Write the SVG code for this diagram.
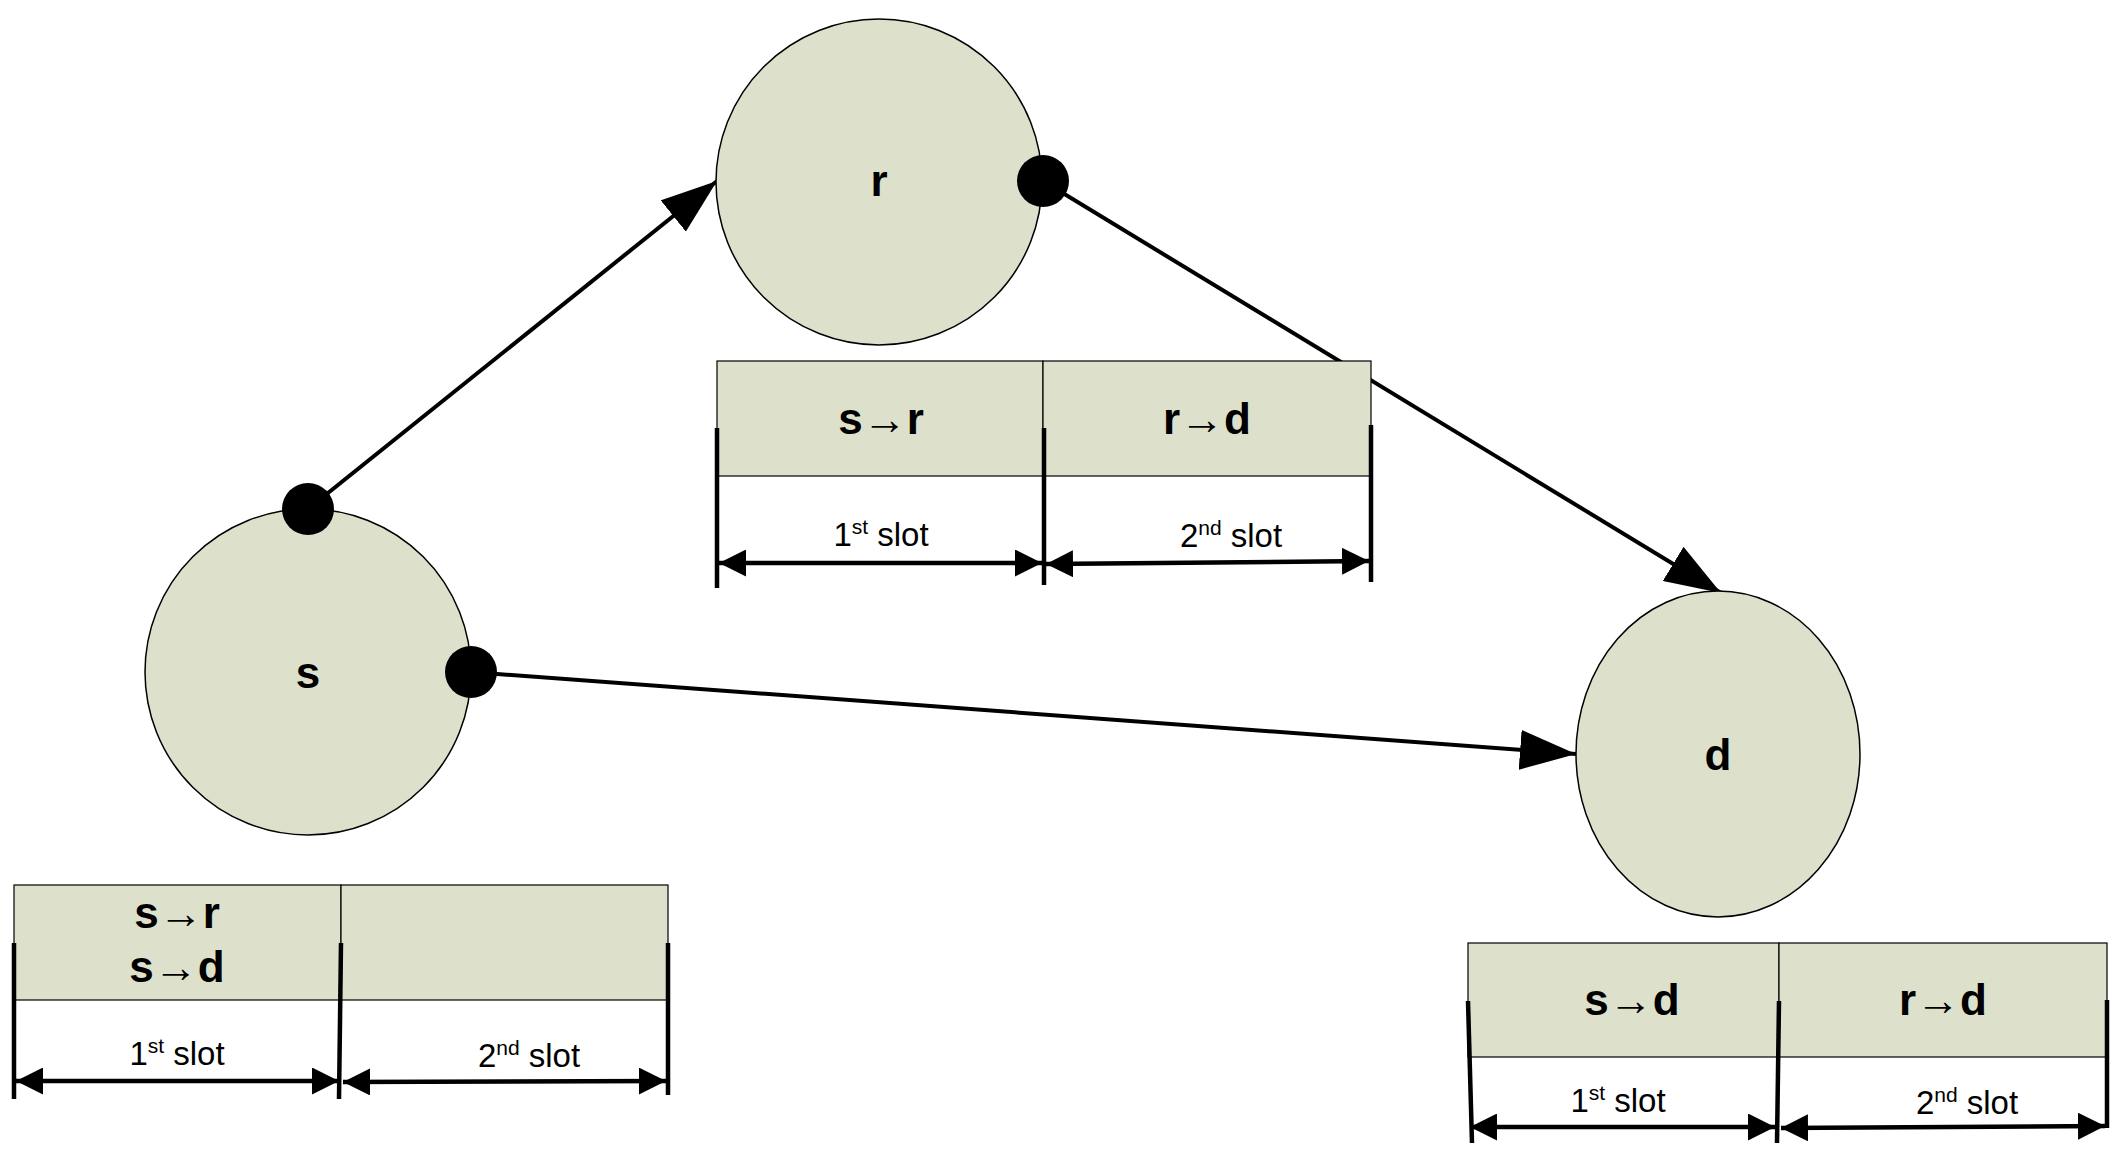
<svg xmlns="http://www.w3.org/2000/svg" width="2122" height="1164" viewBox="0 0 2122 1164">
<style>
.node{fill:#dde1cb;stroke:#000;stroke-width:1.5}
.cell{fill:#dde1cb;stroke:#000;stroke-width:1.2}
.lbl{font-family:"Liberation Sans",Arial,sans-serif;font-weight:bold;font-size:44px;text-anchor:middle;fill:#000}
.slot{font-family:"Liberation Sans",Arial,sans-serif;font-size:33px;text-anchor:middle;fill:#000}
.bar{stroke:#000;stroke-width:4.5;fill:none}
.dim{stroke:#000;stroke-width:4.5;fill:none;marker-start:url(#sm);marker-end:url(#sm)}
.conn{stroke:#000;stroke-width:4;fill:none;marker-end:url(#big)}
</style>
<defs>
<marker id="big" viewBox="0 0 14 10" refX="14" refY="5" markerWidth="14" markerHeight="10" markerUnits="strokeWidth" orient="auto"><path d="M0,0 L14,5 L0,10 Z" fill="#000"/></marker>
<marker id="sm" viewBox="0 0 8 8" refX="8" refY="4" markerWidth="6" markerHeight="6" markerUnits="strokeWidth" orient="auto-start-reverse"><path d="M0,0 L8,4 L0,8 Z" fill="#000"/></marker>
</defs>
<g id="connectors">
<line class="conn" x1="308" y1="509" x2="717" y2="181"/>
<line class="conn" x1="1043" y1="181" x2="1721" y2="593"/>
<line class="conn" x1="471" y1="672" x2="1576" y2="754"/>
</g>
<g id="node-s">
<circle class="node" cx="308" cy="672" r="163"/>
<text class="lbl" x="308" y="688">s</text>
<circle cx="308" cy="509" r="26" fill="#000"/>
<circle cx="471" cy="672" r="26" fill="#000"/>
</g>
<g id="node-r">
<circle class="node" cx="879" cy="182" r="163"/>
<text class="lbl" x="879" y="196">r</text>
<circle cx="1043" cy="181" r="26" fill="#000"/>
</g>
<g id="node-d">
<ellipse class="node" cx="1718" cy="754" rx="142" ry="163"/>
<text class="lbl" x="1718" y="770">d</text>
</g>
<g id="table-s">
<rect class="cell" x="14" y="885" width="327" height="115"/>
<rect class="cell" x="341" y="885" width="327" height="115"/>
<text class="lbl" x="177" y="928">s→r</text>
<text class="lbl" x="177" y="982">s→d</text>
<line class="bar" x1="14" y1="943" x2="14" y2="1099"/>
<line class="bar" x1="341" y1="943" x2="339" y2="1099"/>
<line class="bar" x1="668" y1="943" x2="668" y2="1095"/>
<line class="dim" x1="16" y1="1081" x2="339" y2="1081"/>
<line class="dim" x1="343" y1="1082" x2="666" y2="1081"/>
<text class="slot" x="177" y="1065">1<tspan dy="-12" font-size="21">st</tspan><tspan dy="12"> slot</tspan></text>
<text class="slot" x="529" y="1067">2<tspan dy="-12" font-size="21">nd</tspan><tspan dy="12"> slot</tspan></text>
</g>
<g id="table-r">
<rect class="cell" x="717" y="361" width="326" height="115"/>
<rect class="cell" x="1043" y="361" width="328" height="115"/>
<text class="lbl" x="881" y="434">s→r</text>
<text class="lbl" x="1207" y="434">r→d</text>
<line class="bar" x1="717" y1="428" x2="717" y2="588"/>
<line class="bar" x1="1044" y1="428" x2="1044" y2="585"/>
<line class="bar" x1="1371" y1="425" x2="1371" y2="582"/>
<line class="dim" x1="719" y1="563" x2="1042" y2="563"/>
<line class="dim" x1="1046" y1="564" x2="1369" y2="561"/>
<text class="slot" x="881" y="546">1<tspan dy="-12" font-size="21">st</tspan><tspan dy="12"> slot</tspan></text>
<text class="slot" x="1231" y="547">2<tspan dy="-12" font-size="21">nd</tspan><tspan dy="12"> slot</tspan></text>
</g>
<g id="table-d">
<rect class="cell" x="1468" y="943" width="311" height="114"/>
<rect class="cell" x="1779" y="943" width="328" height="114"/>
<text class="lbl" x="1632" y="1015">s→d</text>
<text class="lbl" x="1943" y="1015">r→d</text>
<line class="bar" x1="1468" y1="1001" x2="1472" y2="1143"/>
<line class="bar" x1="1779" y1="1001" x2="1777" y2="1143"/>
<line class="bar" x1="2107" y1="1000" x2="2107" y2="1128"/>
<line class="dim" x1="1470" y1="1127" x2="1775" y2="1127"/>
<line class="dim" x1="1781" y1="1128" x2="2105" y2="1126"/>
<text class="slot" x="1618" y="1112">1<tspan dy="-12" font-size="21">st</tspan><tspan dy="12"> slot</tspan></text>
<text class="slot" x="1967" y="1114">2<tspan dy="-12" font-size="21">nd</tspan><tspan dy="12"> slot</tspan></text>
</g>
</svg>
